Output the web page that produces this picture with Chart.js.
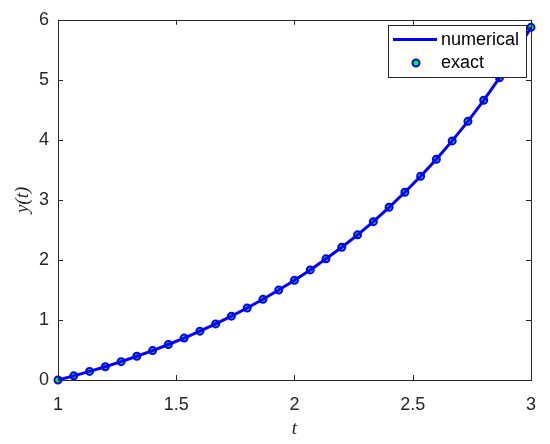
<!DOCTYPE html>
<html>
<head>
<meta charset="utf-8">
<script src="https://cdn.jsdelivr.net/npm/chart.js@4/dist/chart.umd.min.js"></script>
<style>
  html, body { margin: 0; padding: 0; background: #fff; }
  canvas { display: block; }
</style>
</head>
<body>
<canvas id="chart" width="550" height="444"></canvas>
<script>
// t values (31 steps from 1 to 3) and y values
const tValues = [1.0000, 1.0667, 1.1333, 1.2000, 1.2667, 1.3333, 1.4000, 1.4667, 1.5333, 1.6000,
                 1.6667, 1.7333, 1.8000, 1.8667, 1.9333, 2.0000, 2.0667, 2.1333, 2.2000, 2.2667,
                 2.3333, 2.4000, 2.4667, 2.5333, 2.6000, 2.6667, 2.7333, 2.8000, 2.8667, 2.9333, 3.0000];
const numericalY = [0.000, 0.069, 0.143, 0.221, 0.305, 0.395, 0.490, 0.591, 0.698, 0.813,
                    0.934, 1.063, 1.199, 1.344, 1.498, 1.661, 1.834, 2.018, 2.211, 2.418,
                    2.638, 2.877, 3.127, 3.394, 3.678, 3.983, 4.309, 4.659, 5.034, 5.438, 5.874];
const exactY = [0.000, 0.069, 0.143, 0.221, 0.305, 0.395, 0.490, 0.591, 0.698, 0.813,
                0.934, 1.063, 1.199, 1.344, 1.498, 1.661, 1.834, 2.018, 2.211, 2.418,
                2.638, 2.877, 3.127, 3.394, 3.678, 3.983, 4.309, 4.659, 5.034, 5.438, 5.874];
const xTicks = [1, 1.5, 2, 2.5, 3];
const xTickLabels = ['1', '1.5', '2', '2.5', '3'];
const yTicks = [0, 1, 2, 3, 4, 5, 6];
const yTickLabels = ['0', '1', '2', '3', '4', '5', '6'];
const legendLabels = ['numerical', 'exact'];

const axisColor = '#262626';
const sans = '"Liberation Sans", Arial, sans-serif';

// MATLAB-like box with inward ticks on all four sides, plus boxed legend
const boxPlugin = {
  id: 'box',
  afterDraw(chart) {
    const ctx = chart.ctx;
    const a = chart.chartArea;
    const xs = chart.scales.x, ys = chart.scales.y;
    ctx.save();
    ctx.strokeStyle = axisColor;
    ctx.lineWidth = 1;
    ctx.strokeRect(Math.round(a.left) + 0.5, Math.round(a.top) + 0.5,
                   Math.round(a.right - a.left), Math.round(a.bottom - a.top));
    ctx.beginPath();
    xTicks.forEach(v => {
      const px = Math.round(xs.getPixelForValue(v)) + 0.5;
      ctx.moveTo(px, a.bottom); ctx.lineTo(px, a.bottom - 5);
      ctx.moveTo(px, a.top); ctx.lineTo(px, a.top + 5);
    });
    yTicks.forEach(v => {
      const py = Math.round(ys.getPixelForValue(v)) + 0.5;
      ctx.moveTo(a.left, py); ctx.lineTo(a.left + 5, py);
      ctx.moveTo(a.right, py); ctx.lineTo(a.right - 5, py);
    });
    ctx.stroke();

    // legend
    const lx = 388, ly = 25, lw = 138, lh = 52;
    ctx.fillStyle = '#fff';
    ctx.fillRect(lx, ly, lw, lh);
    ctx.strokeRect(lx + 0.5, ly + 0.5, lw, lh);
    const ds = chart.data.datasets;
    ctx.strokeStyle = ds[0].borderColor;
    ctx.lineWidth = ds[0].borderWidth;
    ctx.beginPath();
    ctx.moveTo(lx + 5, ly + 14.5); ctx.lineTo(lx + 49, ly + 14.5);
    ctx.stroke();
    ctx.beginPath();
    ctx.arc(lx + 28, ly + 38, ds[1].pointRadius, 0, Math.PI * 2);
    ctx.fillStyle = ds[1].pointBackgroundColor;
    ctx.fill();
    ctx.lineWidth = ds[1].pointBorderWidth;
    ctx.strokeStyle = ds[1].pointBorderColor;
    ctx.stroke();
    ctx.fillStyle = '#000';
    ctx.font = '18px ' + sans;
    ctx.textBaseline = 'middle';
    ctx.fillText(legendLabels[0], lx + 53, ly + 15);
    ctx.fillText(legendLabels[1], lx + 53, ly + 38);
    ctx.restore();
  }
};

new Chart(document.getElementById('chart'), {
  type: 'scatter',
  data: {
    datasets: [
      {
        label: legendLabels[0],
        data: tValues.map((t, i) => ({ x: t, y: numericalY[i] })),
        showLine: true,
        borderColor: '#0000ff',
        borderWidth: 3,
        pointRadius: 0,
        clip: false
      },
      {
        label: legendLabels[1],
        data: tValues.map((t, i) => ({ x: t, y: exactY[i] })),
        showLine: false,
        pointRadius: 3.5,
        pointBorderWidth: 2,
        pointBorderColor: '#0000ff',
        pointBackgroundColor: '#00ff00',
        clip: false
      }
    ]
  },
  options: {
    responsive: false,
    animation: false,
    devicePixelRatio: 1,
    layout: { padding: { top: 13, right: 13, left: 0, bottom: 0 } },
    plugins: { legend: { display: false }, tooltip: { enabled: false } },
    scales: {
      x: {
        type: 'linear', min: 1, max: 3,
        afterFit(s) { s.height = 64; },
        afterBuildTicks(s) { s.ticks = xTicks.map(v => ({ value: v })); },
        grid: { display: false, drawTicks: false },
        border: { display: false },
        ticks: {
          color: axisColor, padding: 14,
          font: { family: sans, size: 18 },
          callback: (v) => xTickLabels[xTicks.indexOf(v)]
        },
        title: { display: true, text: 't', color: axisColor, padding: { top: 0, bottom: 4 },
                 font: { family: '"Liberation Serif", "Times New Roman", serif', style: 'italic', size: 19 } }
      },
      y: {
        type: 'linear', min: 0, max: 6,
        afterFit(s) { s.width = 58; },
        afterBuildTicks(s) { s.ticks = yTicks.map(v => ({ value: v })); },
        grid: { display: false, drawTicks: false },
        border: { display: false },
        ticks: {
          color: axisColor, padding: 9,
          font: { family: sans, size: 18 },
          callback: (v) => yTickLabels[yTicks.indexOf(v)]
        },
        title: { display: true, text: 'y(t)', color: axisColor, padding: { top: 12, bottom: 0 },
                 font: { family: '"Liberation Serif", "Times New Roman", serif', style: 'italic', size: 19 } }
      }
    }
  },
  plugins: [boxPlugin]
});
</script>
</body>
</html>
